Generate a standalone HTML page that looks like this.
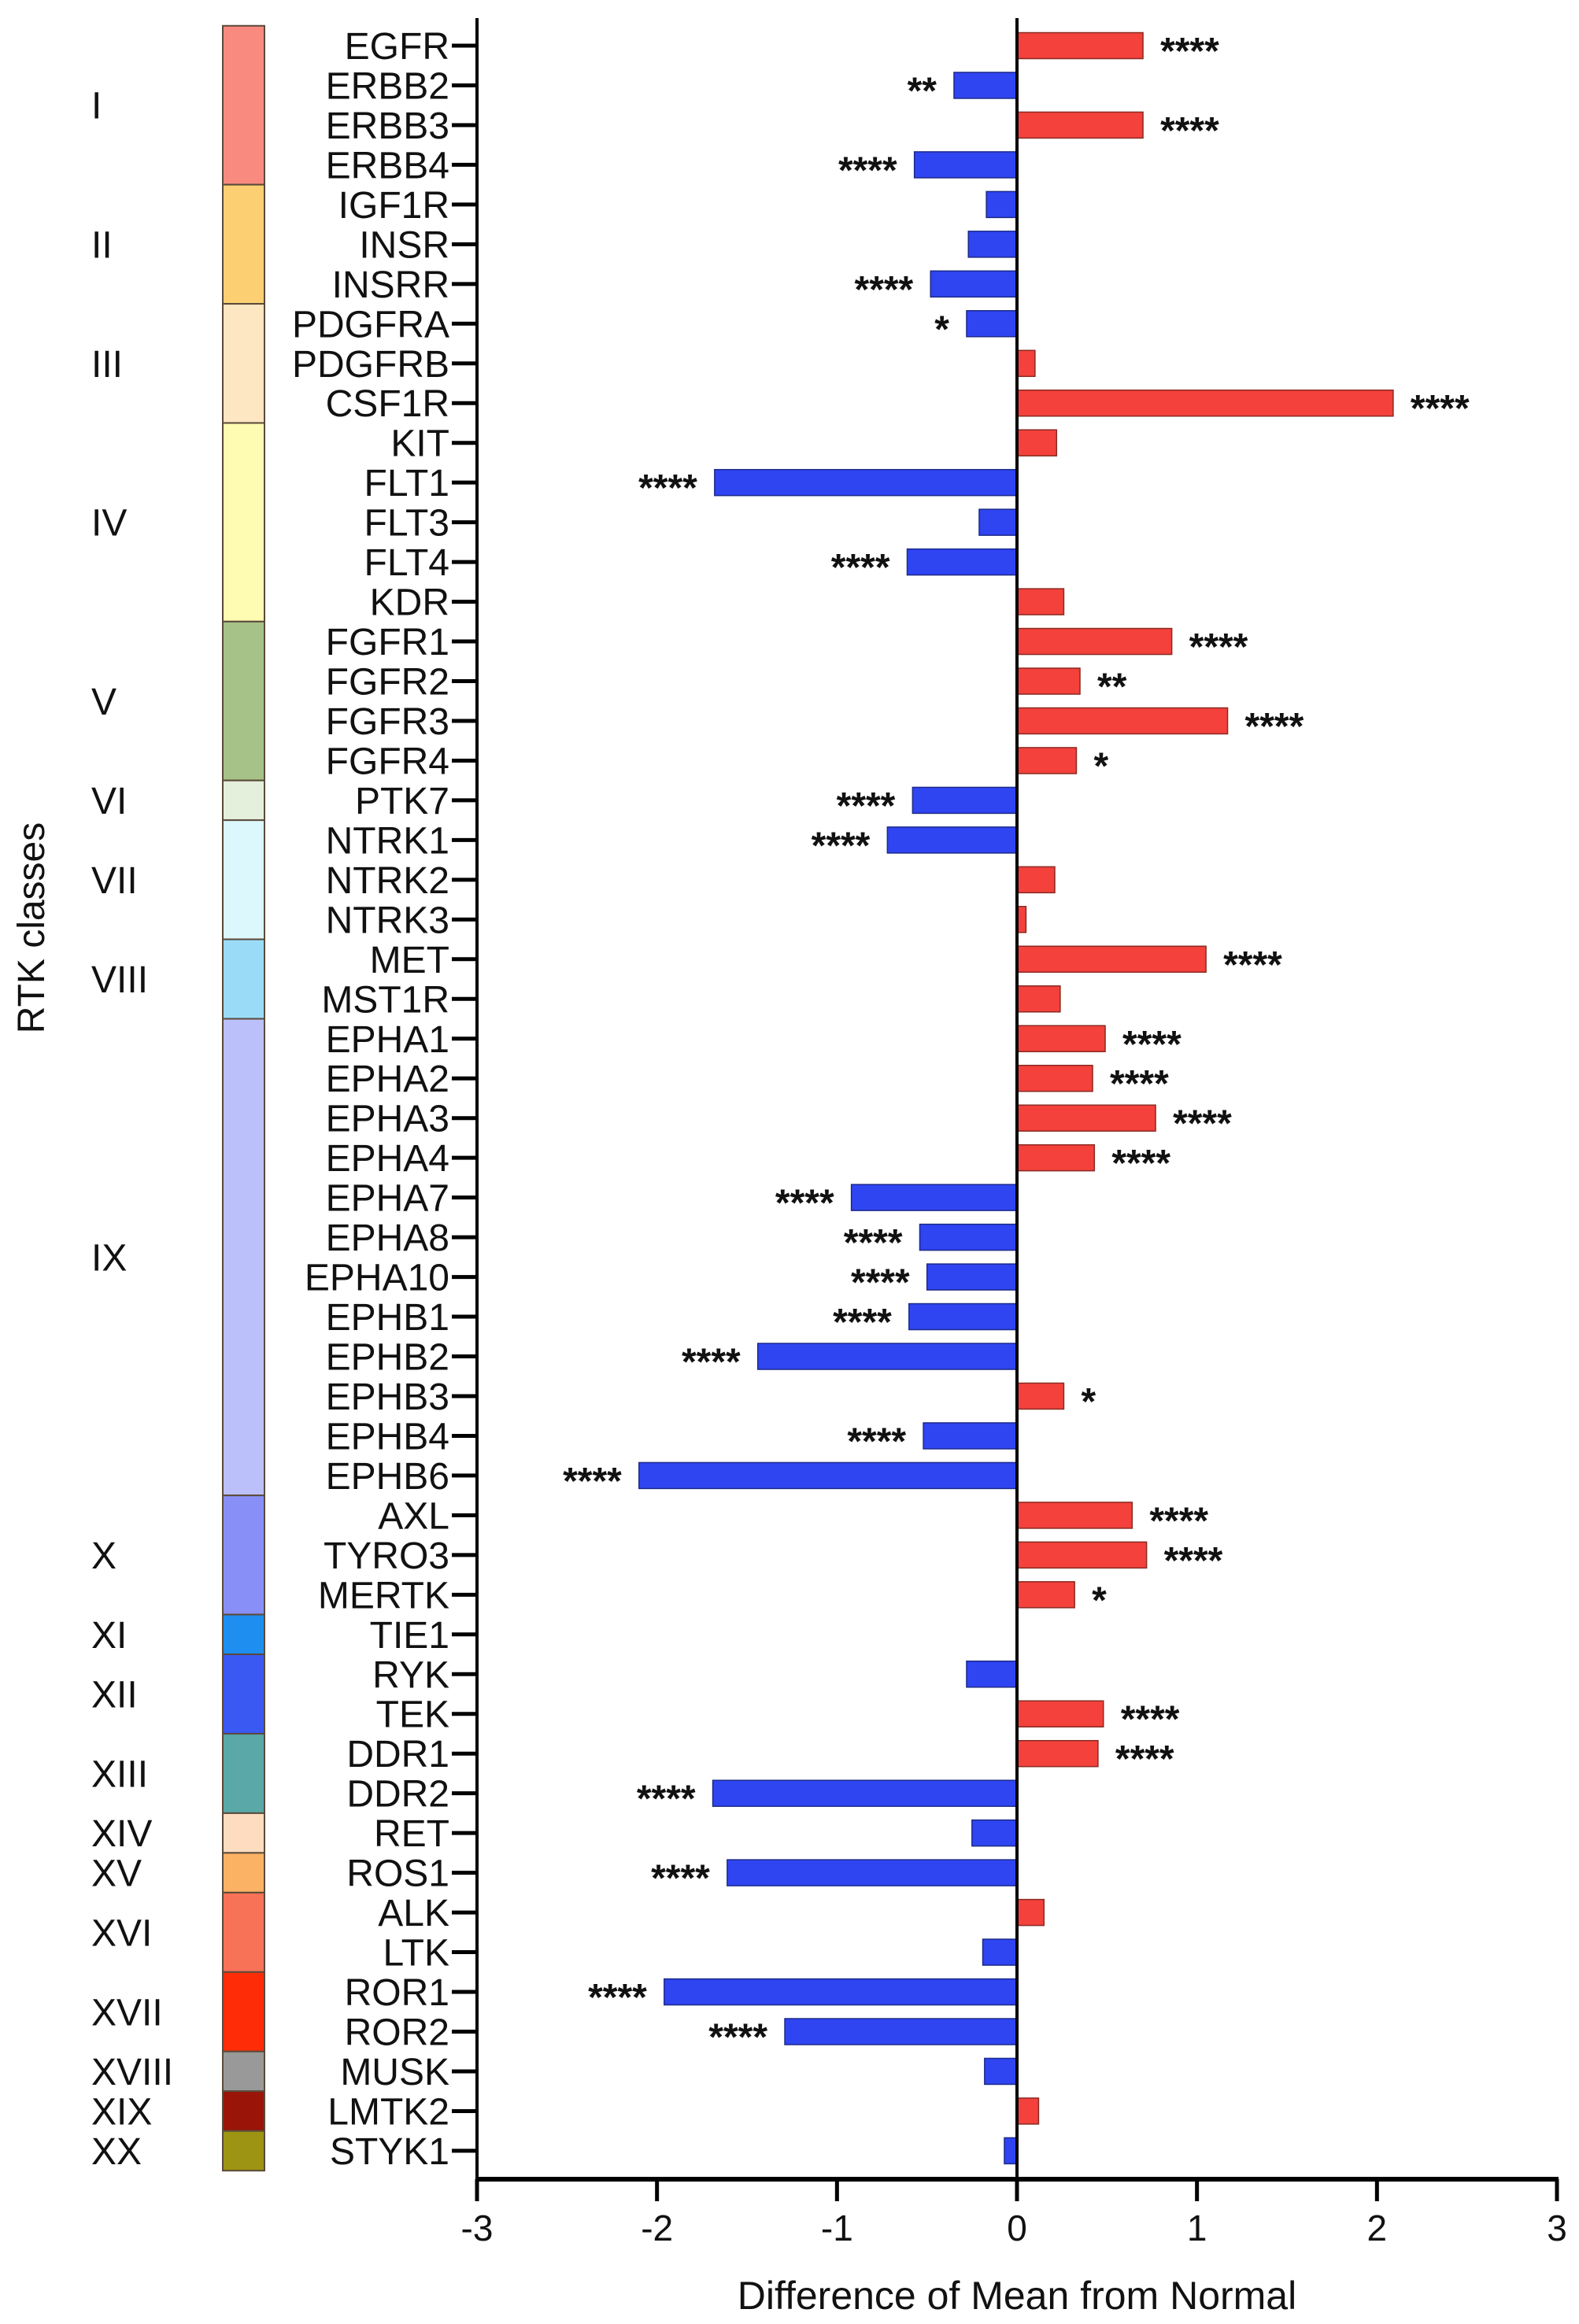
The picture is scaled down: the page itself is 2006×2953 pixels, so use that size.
<!DOCTYPE html>
<html><head><meta charset="utf-8"><style>
html,body{margin:0;padding:0;background:#fff;}
svg{display:block;font-family:"Liberation Sans",Arial,sans-serif;}
</style></head><body>
<svg id="chart" width="2006" height="2953" viewBox="0 0 2006 2953" xmlns="http://www.w3.org/2000/svg"></svg>
<script>
const genes = ["EGFR","ERBB2","ERBB3","ERBB4","IGF1R","INSR","INSRR","PDGFRA","PDGFRB","CSF1R","KIT","FLT1","FLT3","FLT4","KDR","FGFR1","FGFR2","FGFR3","FGFR4","PTK7","NTRK1","NTRK2","NTRK3","MET","MST1R","EPHA1","EPHA2","EPHA3","EPHA4","EPHA7","EPHA8","EPHA10","EPHB1","EPHB2","EPHB3","EPHB4","EPHB6","AXL","TYRO3","MERTK","TIE1","RYK","TEK","DDR1","DDR2","RET","ROS1","ALK","LTK","ROR1","ROR2","MUSK","LMTK2","STYK1"];
const values = [0.70,-0.35,0.70,-0.57,-0.17,-0.27,-0.48,-0.28,0.10,2.09,0.22,-1.68,-0.21,-0.61,0.26,0.86,0.35,1.17,0.33,-0.58,-0.72,0.21,0.05,1.05,0.24,0.49,0.42,0.77,0.43,-0.92,-0.54,-0.50,-0.60,-1.44,0.26,-0.52,-2.10,0.64,0.72,0.32,0,-0.28,0.48,0.45,-1.69,-0.25,-1.61,0.15,-0.19,-1.96,-1.29,-0.18,0.12,-0.07];
const stars = ["****","**","****","****","","","****","*","","****","","****","","****","","****","**","****","*","****","****","","","****","","****","****","****","****","****","****","****","****","****","*","****","****","****","****","*","","","****","****","****","","****","","","****","****","","",""];
const classNames = ["I","II","III","IV","V","VI","VII","VIII","IX","X","XI","XII","XIII","XIV","XV","XVI","XVII","XVIII","XIX","XX"];
const classSizes = [4,3,3,5,4,1,3,2,12,3,1,2,2,1,1,2,2,1,1,1];
const classColors = ["#F98A80","#FCCF72","#FDE6C2","#FEFBB2","#A7C288","#E4EFDC","#DDF8FC","#9ADCF8","#BCC0FA","#8890F8","#1E8EF0","#3A58F2","#5AA8A8","#FDDCC0","#FBB264","#F87258","#FF2C08","#999999","#9A1408","#9C9412"];
const xTicks = [-3,-2,-1,0,1,2,3];

const svg = document.getElementById('chart');
const NS = "http://www.w3.org/2000/svg";
const X0 = 606, X1 = 1978, XMIN = -3, XMAX = 3;
const Y0 = 58, STEP = 50.47, AXY = 2769, TOP = 23;
const xs = v => X0 + (v - XMIN) / (XMAX - XMIN) * (X1 - X0);
const ys = i => Y0 + i * STEP;
function el(tag, attrs, parent) {
  const e = document.createElementNS(NS, tag);
  for (const k in attrs) e.setAttribute(k, attrs[k]);
  (parent || svg).appendChild(e);
  return e;
}

let start = 0;
classSizes.forEach((n, c) => {
  const yTop = ys(start) - STEP / 2, yBot = ys(start + n - 1) + STEP / 2;
  const r = el('rect', {x: 283, y: yTop, width: 53, height: yBot - yTop, fill: classColors[c], stroke: '#5a4a3a', 'stroke-width': 2});
  
  
  const t = el('text', {x: 116, y: (yTop + yBot) / 2 + 17, 'font-size': 48, fill: '#111'});
  t.textContent = classNames[c];
  
  
  start += n;
});

const yt = el('text', {x: 0, y: 0, 'font-size': 48, fill: '#111', 'text-anchor': 'middle', transform: 'translate(56,1179) rotate(-90)'});
yt.textContent = 'RTK classes';



genes.forEach((g, i) => {
  const y = ys(i);
  const v = values[i];
  const tk = el('line', {x1: 574, x2: 606, y1: y, y2: y, stroke: '#000', 'stroke-width': 5});
  
  
  const lb = el('text', {x: 571, y: y + 17, 'font-size': 48, fill: '#111', 'text-anchor': 'end'});
  lb.textContent = g;
  
  
  if (v !== 0) {
    const a = xs(0), b = xs(v);
    const bar = el('rect', {x: Math.min(a, b), y: y - 16.5, width: Math.abs(b - a), height: 33,
      fill: v > 0 ? '#F4413B' : '#2F45F2', stroke: v > 0 ? '#8a2a22' : '#1c2a8a', 'stroke-width': 1.5});
    
    
  }
  if (stars[i]) {
    const pos = v > 0;
    const st = el('text', {x: pos ? xs(v) + 22 : xs(v) - 22, y: y + 23, 'font-size': 48, 'font-weight': 'bold', fill: '#111', 'text-anchor': pos ? 'start' : 'end'});
    st.textContent = stars[i];
    
    
  }
});

const la = el('line', {x1: X0, x2: X0, y1: TOP, y2: AXY, stroke: '#000', 'stroke-width': 4});


const zl = el('line', {x1: xs(0), x2: xs(0), y1: TOP, y2: AXY, stroke: '#000', 'stroke-width': 4});


const xa = el('line', {x1: X0 - 2, x2: X1 + 2, y1: AXY, y2: AXY, stroke: '#000', 'stroke-width': 6});


xTicks.forEach(t => {
  const l = el('line', {x1: xs(t), x2: xs(t), y1: AXY, y2: AXY + 28, stroke: '#000', 'stroke-width': 5});
  
  
  const tx = el('text', {x: xs(t), y: AXY + 78, 'font-size': 46, fill: '#111', 'text-anchor': 'middle'});
  tx.textContent = String(t);
  
  
});
const xt = el('text', {x: 1292, y: 2934, 'font-size': 50, fill: '#111', 'text-anchor': 'middle'});
xt.textContent = 'Difference of Mean from Normal';


</script>
</body></html>
